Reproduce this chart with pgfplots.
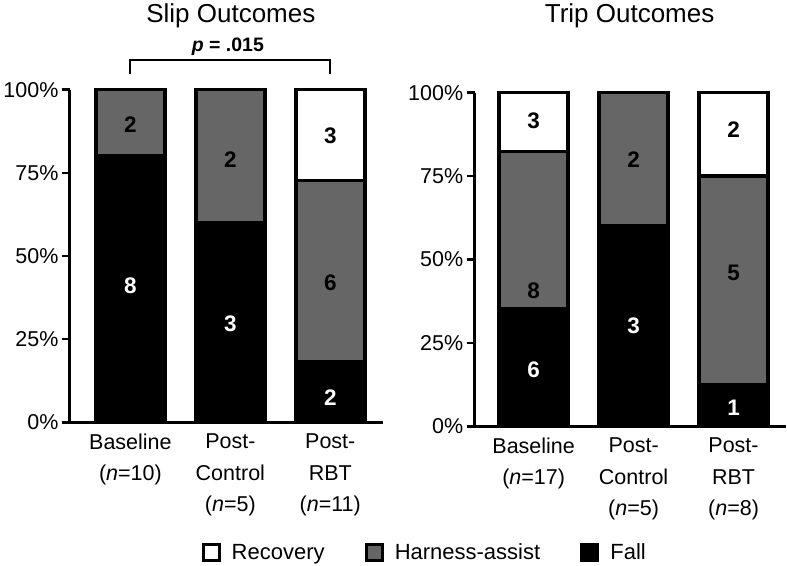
\documentclass[border=0pt]{standalone}
\usepackage{pgfplots}
\pgfplotsset{compat=1.18}
\usepackage{fontspec}
\setmainfont{Liberation Sans}
\definecolor{harness}{RGB}{102,102,102}
\newcommand{\lbl}{\fontsize{21.5}{31.5}\selectfont}
\newcommand{\barnum}{\fontsize{22.5}{25}\selectfont\bfseries}
\newcommand{\ttl}{\fontsize{26}{30}\selectfont}
\begin{document}
\begin{tikzpicture}
\path (-70pt,-143pt) rectangle (716pt,420pt);
\pgfplotsset{
  myax/.style={
    scale only axis, clip=false,
    axis lines=left, axis line style={-, line width=3pt},
    ymin=0, ymax=100,
    ytick={0,25,50,75,100},
    yticklabels={0\%,25\%,50\%,75\%,100\%},
    xtick={0,1,2},
    x tick style={draw=none},
    y tick style={line width=2.5pt, black},
    tick align=outside, major tick length=8pt,
    xticklabel style={align=center, font=\lbl, anchor=north, yshift=0pt},
    yticklabel style={font=\lbl},
    ybar stacked, bar width=69pt,
    every axis plot/.append style={draw=black, line width=3.5pt},
  },
  sqlegend/.style={legend image code/.code={\draw[##1, line width=3pt] (0pt,-8pt) rectangle (16pt,8pt); \path (25pt,0pt);}},
}
% ---------------- Slip ----------------
\begin{axis}[myax, at={(0pt,0pt)}, anchor=south west,
  width=313pt, height=333pt, xmin=-0.605, xmax=2.525,
  xticklabels={{Baseline\\(\textit{n}=10)}, {Post-\\Control\\(\textit{n}=5)}, {Post-\\RBT\\(\textit{n}=11)}},
  legend columns=3,
  legend style={draw=none, at={(1.134,-0.39)}, anchor=center, font=\fontsize{22}{26}\selectfont,
    /tikz/every even column/.append style={column sep=38pt}},
]
\addlegendimage{sqlegend, fill=white, draw=black}
\addlegendentry{Recovery}
\addlegendimage{sqlegend, fill=harness, draw=black}
\addlegendentry{Harness-assist}
\addlegendimage{sqlegend, fill=black, draw=black}
\addlegendentry{Fall}
\addplot[fill=black] coordinates {(0,80) (1,60) (2,18.18)};
\addplot[fill=harness] coordinates {(0,20) (1,40) (2,54.55)};
\addplot[fill=white] coordinates {(0,0) (1,0) (2,27.27)};
\coordinate (sA1) at (axis cs:0,41);
\coordinate (sA2) at (axis cs:0,89.5);
\coordinate (sB1) at (axis cs:1,29.5);
\coordinate (sB2) at (axis cs:1,79);
\coordinate (sC1) at (axis cs:2,7.5);
\coordinate (sC2) at (axis cs:2,42);
\coordinate (sC3) at (axis cs:2,86);
\draw[line width=2pt] (axis cs:0,104.8) -- (axis cs:0,109) -- (axis cs:2,109) -- (axis cs:2,104.8);
\node[anchor=base, font=\fontsize{19.5}{22}\selectfont\bfseries] at (axis cs:0.975,111.6) {\textit{p} = .015};
\end{axis}
% ---------------- Trip ----------------
\begin{axis}[myax, at={(405pt,-4pt)}, anchor=south west,
  width=311pt, height=334pt, xmin=-0.59, xmax=2.52,
  xticklabels={{Baseline\\(\textit{n}=17)}, {Post-\\Control\\(\textit{n}=5)}, {Post-\\RBT\\(\textit{n}=8)}},
]
\addplot[fill=black] coordinates {(0,35.29) (1,60) (2,12.5)};
\addplot[fill=harness] coordinates {(0,47.06) (1,40) (2,62.5)};
\addplot[fill=white] coordinates {(0,17.65) (1,0) (2,25)};
\coordinate (tA1) at (axis cs:0,17);
\coordinate (tA2) at (axis cs:0,40.7);
\coordinate (tA3) at (axis cs:0,91.6);
\coordinate (tB1) at (axis cs:1,30);
\coordinate (tB2) at (axis cs:1,80);
\coordinate (tC1) at (axis cs:2,5.5);
\coordinate (tC2) at (axis cs:2,46);
\coordinate (tC3) at (axis cs:2,89);
\end{axis}
% bar counts
\node[font=\barnum, text=white] at (sA1) {8};
\node[font=\barnum] at (sA2) {2};
\node[font=\barnum, text=white] at (sB1) {3};
\node[font=\barnum] at (sB2) {2};
\node[font=\barnum, text=white] at (sC1) {2};
\node[font=\barnum] at (sC2) {6};
\node[font=\barnum] at (sC3) {3};
\node[font=\barnum, text=white] at (tA1) {6};
\node[font=\barnum] at (tA2) {8};
\node[font=\barnum] at (tA3) {3};
\node[font=\barnum, text=white] at (tB1) {3};
\node[font=\barnum] at (tB2) {2};
\node[font=\barnum, text=white] at (tC1) {1};
\node[font=\barnum] at (tC2) {5};
\node[font=\barnum] at (tC3) {2};
\node[anchor=base, font=\ttl] at (161pt,400.5pt) {Slip Outcomes};
\node[anchor=base, font=\ttl] at (560pt,400.5pt) {Trip Outcomes};
\end{tikzpicture}
\end{document}
